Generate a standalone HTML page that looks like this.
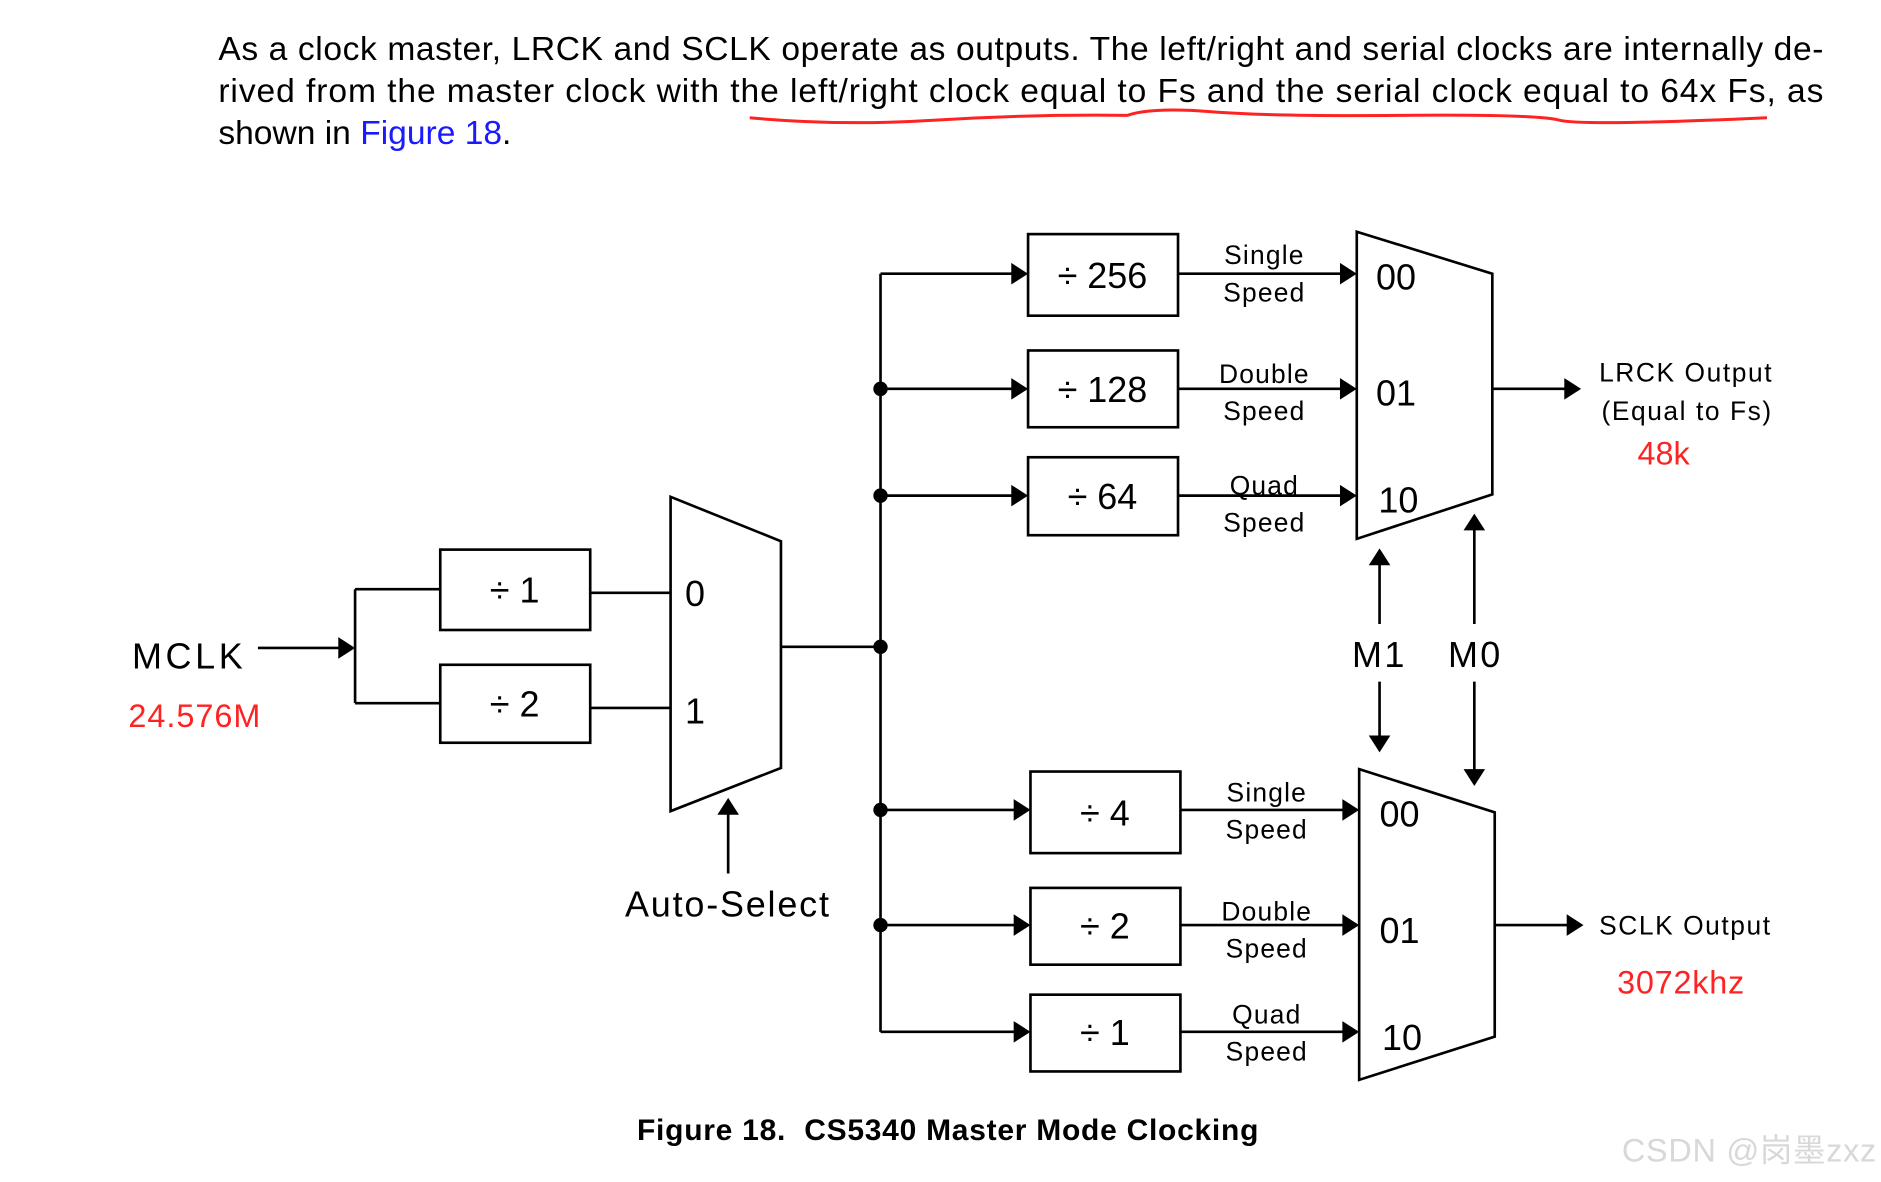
<!DOCTYPE html>
<html><head><meta charset="utf-8"><style>
html,body{margin:0;padding:0;background:#fff;}
svg{display:block;}
text{font-family:"Liberation Sans",Arial,sans-serif;}
</style></head><body>
<svg width="1881" height="1182" viewBox="0 0 1568 985" xmlns="http://www.w3.org/2000/svg">
<g font-size="28" fill="#000">
<text x="182" y="50" textLength="1338" lengthAdjust="spacing">As a clock master, LRCK and SCLK operate as outputs. The left/right and serial clocks are internally de-</text>
<text x="182" y="85" textLength="1338" lengthAdjust="spacing">rived from the master clock with the left/right clock equal to Fs and the serial clock equal to 64x Fs, as</text>
<text x="182" y="120">shown in <tspan fill="#1a1aff">Figure 18</tspan>.</text>
</g>
<path d="M625,98 Q700,105 780,100 T940,96 Q960,89 1010,93 T1170,96 T1300,100 T1473,98" fill="none" stroke="#f22" stroke-width="2.5"/>

<g stroke="#000" stroke-width="2.2" fill="none">
<rect x="857" y="195" width="125" height="68"/>
<rect x="857" y="292" width="125" height="64"/>
<rect x="857" y="381" width="125" height="65"/>
<polygon points="1131,193 1244,228 1244,412 1131,449"/>
<rect x="859" y="643" width="125" height="68"/>
<rect x="859" y="740" width="125" height="64"/>
<rect x="859" y="829" width="125" height="64"/>
<polygon points="1133,641 1246,677 1246,864 1133,900"/>
<rect x="367" y="458" width="125" height="67"/>
<rect x="367" y="554" width="125" height="65"/>
<polygon points="559,414 651,451 651,640 559,676"/>
<path d="M734,228 V860 M734,228 H845 M734,324 H845 M734,413 H845 M734,675 H847 M734,771 H847 M734,860 H847"/>
<path d="M982,228 H1119 M982,324 H1119 M982,413 H1119 M984,675 H1121 M984,771 H1121 M984,860 H1121"/>
<path d="M1244,324 H1306 M1246,771 H1308"/>
<path d="M1150,520 V469 M1150,568 V615 M1229,520 V440 M1229,568 V643"/>
<path d="M215,540 H283 M296,491 V586 M296,491 H367 M296,586 H367 M492,494 H559 M492,590 H559 M651,539 H734 M607,728 V677"/>
</g>
<g fill="#000">
<path d="M857,228 l-14,-9 v18z M857,324 l-14,-9 v18z M857,413 l-14,-9 v18z M859,675 l-14,-9 v18z M859,771 l-14,-9 v18z M859,860 l-14,-9 v18z"/>
<path d="M1131,228 l-14,-9 v18z M1131,324 l-14,-9 v18z M1131,413 l-14,-9 v18z M1133,675 l-14,-9 v18z M1133,771 l-14,-9 v18z M1133,860 l-14,-9 v18z"/>
<path d="M1318,324 l-14,-9 v18z M1320,771 l-14,-9 v18z M296,540 l-14,-9 v18z"/>
<path d="M1150,457 l-9,14 h18z M1150,627 l-9,-14 h18z M1229,428 l-9,14 h18z M1229,655 l-9,-14 h18z M607,665 l-9,14 h18z"/>
<circle cx="734" cy="324" r="6"/><circle cx="734" cy="413" r="6"/><circle cx="734" cy="539" r="6"/><circle cx="734" cy="675" r="6"/><circle cx="734" cy="771" r="6"/>
</g>
<g font-size="30" text-anchor="middle">
<text x="919" y="240">÷ 256</text>
<text x="919" y="335">÷ 128</text>
<text x="919" y="424">÷ 64</text>
<text x="921" y="688">÷ 4</text>
<text x="921" y="782">÷ 2</text>
<text x="921" y="871">÷ 1</text>
<text x="429" y="502">÷ 1</text>
<text x="429" y="597">÷ 2</text>
</g>
<g font-size="30">
<text x="1147" y="241">00</text><text x="1147" y="338">01</text><text x="1149" y="427">10</text>
<text x="1150" y="689">00</text><text x="1150" y="786">01</text><text x="1152" y="875">10</text>
<text x="571" y="505">0</text><text x="571" y="603">1</text>
<text x="1127" y="556" letter-spacing="2">M1</text><text x="1207" y="556" letter-spacing="2">M0</text>
<text x="110" y="557" letter-spacing="3">MCLK</text>
<text x="521" y="764" letter-spacing="1.5">Auto-Select</text>
</g>
<g font-size="22" text-anchor="middle" letter-spacing="1">
<text x="1054" y="220">Single</text><text x="1054" y="251">Speed</text>
<text x="1054" y="319">Double</text><text x="1054" y="350">Speed</text>
<text x="1054" y="412">Quad</text><text x="1054" y="443">Speed</text>
<text x="1056" y="668">Single</text><text x="1056" y="699">Speed</text>
<text x="1056" y="767">Double</text><text x="1056" y="798">Speed</text>
<text x="1056" y="853">Quad</text><text x="1056" y="884">Speed</text>
</g>
<g font-size="22" letter-spacing="1.3">
<text x="1333" y="318">LRCK Output</text>
<text x="1335" y="350">(Equal to Fs)</text>
<text x="1333" y="779">SCLK Output</text>
</g>
<g font-size="27" fill="#f22">
<text x="1365" y="387">48k</text>
<text x="107" y="606" textLength="110">24.576M</text>
<text x="1348" y="828" textLength="106">3072khz</text>
</g>
<text x="531" y="950" font-size="25" font-weight="bold" textLength="518">Figure 18.&#160; CS5340 Master Mode Clocking</text>
<text x="1352" y="968" font-size="27" fill="#d8d8d8" textLength="212" font-family="'Liberation Sans','Noto Sans CJK SC',sans-serif">CSDN @岗墨zxz</text>
</svg>
</body></html>
